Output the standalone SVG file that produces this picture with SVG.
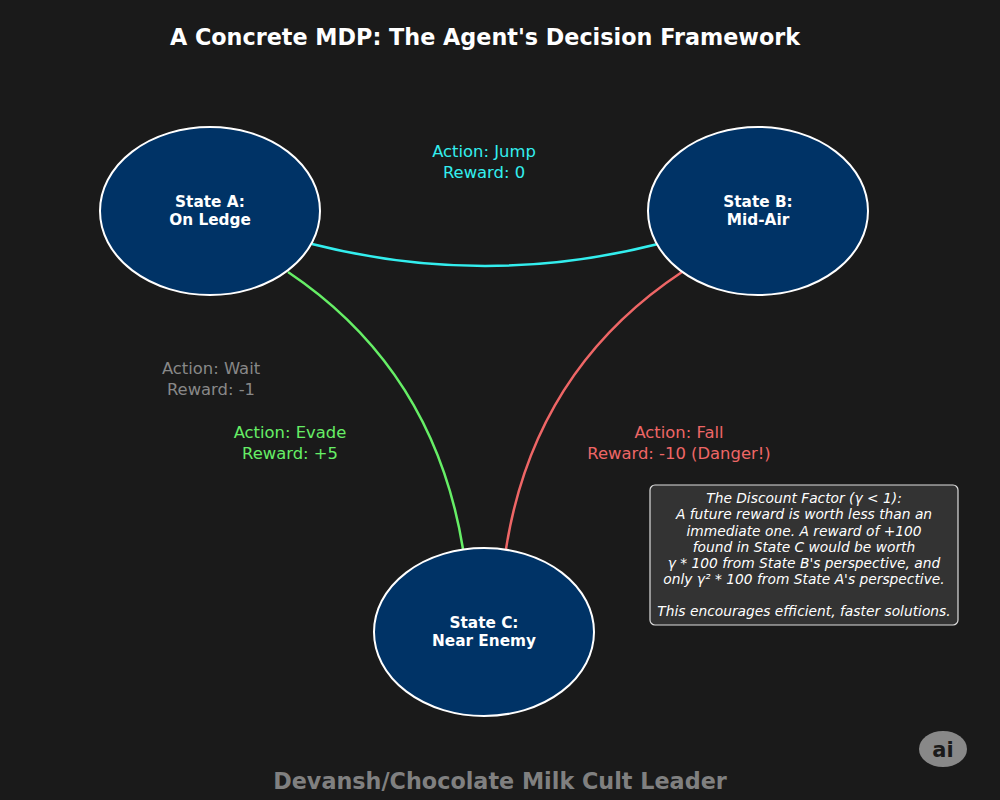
<svg xmlns="http://www.w3.org/2000/svg" width="1000" height="800" viewBox="0 0 1000 800">
<style>
text{font-family:"DejaVu Sans","Liberation Sans",sans-serif;text-anchor:middle}
.node ellipse{fill:#003366;stroke:#ffffff;stroke-width:2}
.node text{fill:#ffffff;font-weight:bold;font-size:15.3px}
.edge{fill:none;stroke-width:2.5}
.lbl{font-size:16.4px}
.note{font-size:13.8px;font-style:italic;fill:#ffffff}
</style>
<rect width="1000" height="800" fill="#1a1a1a"/>
<text x="485" y="44.5" font-size="22.3" font-weight="bold" fill="#ffffff">A Concrete MDP: The Agent's Decision Framework</text>
<g id="connectors">
<path class="edge" d="M312,244 Q485,288 658,244" stroke="#33eeee"/>
<path class="edge" d="M288,272 Q434,370 463,549" stroke="#66ee66"/>
<path class="edge" d="M682,272 Q534,370 506,549" stroke="#ee6666"/>
</g>
<g id="labels">
<text class="lbl" x="484" y="157" fill="#33eeee">Action: Jump</text>
<text class="lbl" x="484" y="178" fill="#33eeee">Reward: 0</text>
<text class="lbl" x="211" y="374" fill="#888888">Action: Wait</text>
<text class="lbl" x="211" y="395" fill="#888888">Reward: -1</text>
<text class="lbl" x="290" y="438" fill="#66ee66">Action: Evade</text>
<text class="lbl" x="290" y="459" fill="#66ee66">Reward: +5</text>
<text class="lbl" x="679" y="438" fill="#ee6666">Action: Fall</text>
<text class="lbl" x="679" y="459" fill="#ee6666">Reward: -10 (Danger!)</text>
</g>
<g id="stateA" class="node">
<ellipse cx="210" cy="211" rx="110" ry="84"/>
<text x="210" y="207">State A:</text>
<text x="210" y="225">On Ledge</text>
</g>
<g id="stateB" class="node">
<ellipse cx="758" cy="211" rx="110" ry="84"/>
<text x="758" y="207">State B:</text>
<text x="758" y="225">Mid-Air</text>
</g>
<g id="stateC" class="node">
<ellipse cx="484" cy="632" rx="110" ry="84"/>
<text x="484" y="628">State C:</text>
<text x="484" y="646">Near Enemy</text>
</g>
<g id="note">
<rect x="650" y="485" width="308" height="140" rx="5" fill="#333333" stroke="#dddddd" stroke-width="1.2"/>
<text class="note" x="804" y="503">The Discount Factor (γ &lt; 1):</text>
<text class="note" x="804" y="519">A future reward is worth less than an</text>
<text class="note" x="804" y="536">immediate one. A reward of +100</text>
<text class="note" x="804" y="552">found in State C would be worth</text>
<text class="note" x="804" y="568">γ * 100 from State B's perspective, and</text>
<text class="note" x="804" y="584">only γ² * 100 from State A's perspective.</text>
<text class="note" x="804" y="616">This encourages efficient, faster solutions.</text>
</g>
<text x="500" y="789" font-size="22.3" font-weight="bold" fill="#808080">Devansh/Chocolate Milk Cult Leader</text>
<g id="badge">
<ellipse cx="943" cy="749" rx="24" ry="18" fill="#888888"/>
<text x="943" y="757" font-size="21" font-weight="bold" fill="#1a1a1a">ai</text>
</g>
</svg>
